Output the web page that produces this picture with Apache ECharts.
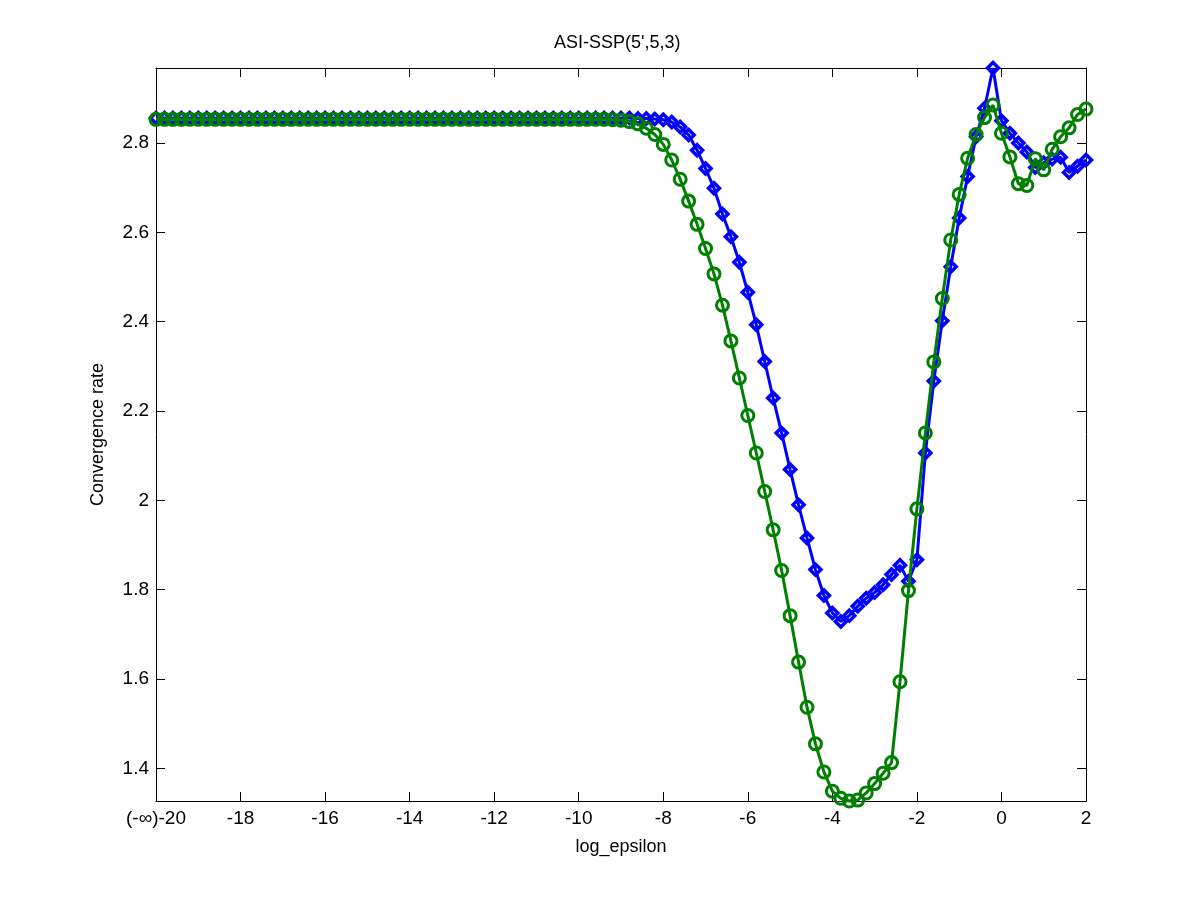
<!DOCTYPE html>
<html>
<head>
<meta charset="utf-8">
<script src="https://cdn.jsdelivr.net/npm/echarts@6/dist/echarts.min.js"></script>
<style>
html,body{margin:0;padding:0;background:#fff;}
#chart{width:1200px;height:900px;}
</style>
</head>
<body>
<div id="chart"></div>
<script>
// log_epsilon values
const xs = [
  -20,-19.8,-19.6,-19.4,-19.2,-19,-18.8,-18.6,-18.4,-18.2,
  -18,-17.8,-17.6,-17.4,-17.2,-17,-16.8,-16.6,-16.4,-16.2,
  -16,-15.8,-15.6,-15.4,-15.2,-15,-14.8,-14.6,-14.4,-14.2,
  -14,-13.8,-13.6,-13.4,-13.2,-13,-12.8,-12.6,-12.4,-12.2,
  -12,-11.8,-11.6,-11.4,-11.2,-11,-10.8,-10.6,-10.4,-10.2,
  -10,-9.8,-9.6,-9.4,-9.2,-9,-8.8,-8.6,-8.4,-8.2,
  -8,-7.8,-7.6,-7.4,-7.2,-7,-6.8,-6.6,-6.4,-6.2,
  -6,-5.8,-5.6,-5.4,-5.2,-5,-4.8,-4.6,-4.4,-4.2,
  -4,-3.8,-3.6,-3.4,-3.2,-3,-2.8,-2.6,-2.4,-2.2,
  -2,-1.8,-1.6,-1.4,-1.2,-1,-0.8,-0.6,-0.4,-0.2,
  0,0.2,0.4,0.6,0.8,1,1.2,1.4,1.6,1.8,
  2
];
// convergence rate, blue diamonds
const blueRate = [
  2.856,2.856,2.856,2.856,2.856,2.856,2.856,2.856,2.856,2.856,
  2.856,2.856,2.856,2.856,2.856,2.856,2.856,2.856,2.856,2.856,
  2.856,2.856,2.856,2.856,2.856,2.856,2.856,2.856,2.856,2.856,
  2.856,2.856,2.856,2.856,2.856,2.856,2.856,2.856,2.856,2.856,
  2.856,2.856,2.856,2.856,2.856,2.856,2.856,2.856,2.856,2.856,
  2.856,2.856,2.856,2.856,2.856,2.856,2.856,2.855,2.855,2.854,
  2.852,2.847,2.836,2.818,2.784,2.743,2.699,2.641,2.590,2.533,
  2.466,2.393,2.311,2.229,2.151,2.069,1.990,1.916,1.845,1.787,
  1.748,1.729,1.742,1.763,1.781,1.794,1.811,1.834,1.855,1.819,
  1.867,2.106,2.267,2.402,2.523,2.632,2.725,2.814,2.878,2.968,
  2.850,2.822,2.800,2.780,2.745,2.756,2.764,2.768,2.734,2.748,
  2.762
];
// convergence rate, green circles
const greenRate = [
  2.853,2.853,2.853,2.853,2.853,2.853,2.853,2.853,2.853,2.853,
  2.853,2.853,2.853,2.853,2.853,2.853,2.853,2.853,2.853,2.853,
  2.853,2.853,2.853,2.853,2.853,2.853,2.853,2.853,2.853,2.853,
  2.853,2.853,2.853,2.853,2.853,2.853,2.853,2.853,2.853,2.853,
  2.853,2.853,2.853,2.853,2.853,2.853,2.853,2.853,2.853,2.853,
  2.853,2.853,2.853,2.853,2.852,2.851,2.848,2.843,2.833,2.819,
  2.797,2.762,2.719,2.670,2.618,2.564,2.507,2.437,2.357,2.274,
  2.190,2.106,2.020,1.934,1.843,1.742,1.638,1.537,1.455,1.392,
  1.349,1.333,1.327,1.329,1.345,1.366,1.389,1.413,1.594,1.798,
  1.981,2.151,2.310,2.452,2.583,2.685,2.766,2.819,2.857,2.885,
  2.822,2.769,2.709,2.705,2.765,2.740,2.786,2.814,2.834,2.864,
  2.876
];
const titleText = "ASI-SSP(5',5,3)";
const xName = 'log_epsilon';
const yName = 'Convergence rate';
const xMin = -20, xMax = 2, xStep = 2;

const FONT = '"Liberation Sans", Arial, Helvetica, sans-serif';
const yMin = Math.min(...blueRate, ...greenRate);
const yMax = Math.max(...blueRate, ...greenRate);

const chart = echarts.init(document.getElementById('chart'), null, {renderer: 'canvas'});

const axisCommon = {
  axisLine: {show: true, onZero: false, lineStyle: {color: '#000', width: 1}},
  axisTick: {show: true, inside: true, length: 9, lineStyle: {color: '#000', width: 1}},
  splitLine: {show: false}
};

const option = {
  backgroundColor: '#fff',
  animation: false,
  textStyle: {fontFamily: FONT},
  title: {
    text: titleText,
    left: 554,
    top: 34,
    padding: 0,
    textStyle: {fontFamily: FONT, fontSize: 18, fontWeight: 'normal', color: '#000'}
  },
  grid: {left: 156, right: 114, top: 68, bottom: 99, containLabel: false},
  xAxis: [
    Object.assign({
      type: 'value', position: 'bottom', min: xMin, max: xMax, interval: xStep,
      name: xName, nameLocation: 'middle', nameGap: 37,
      nameTextStyle: {fontFamily: FONT, fontSize: 18, color: '#000'},
      axisLabel: {
        show: true, margin: 8, color: '#000', fontFamily: FONT, fontSize: 19,
        formatter: v => (v === -20 ? '(-\u221e)-20' : String(v))
      }
    }, axisCommon),
    Object.assign({
      type: 'value', position: 'top', min: xMin, max: xMax, interval: xStep,
      axisLabel: {show: false}
    }, axisCommon)
  ],
  yAxis: [
    Object.assign({
      type: 'value', position: 'left', min: yMin, max: yMax, splitNumber: 8,
      name: yName, nameLocation: 'middle', nameGap: 49, nameRotate: 90,
      nameTextStyle: {fontFamily: FONT, fontSize: 18, color: '#000'},
      axisLabel: {
        show: true, margin: 7, color: '#000', fontFamily: FONT, fontSize: 19,
        showMinLabel: false, showMaxLabel: false,
        formatter: v => String(Math.round(v * 10) / 10)
      }
    }, axisCommon),
    Object.assign({
      type: 'value', position: 'right', min: yMin, max: yMax, splitNumber: 8,
      axisLabel: {show: false}
    }, axisCommon)
  ],
  series: [
    {
      type: 'line',
      name: 'blue',
      xAxisIndex: 0, yAxisIndex: 0,
      data: xs.map((x, i) => [x, blueRate[i]]),
      clip: false,
      symbol: 'diamond',
      symbolSize: 11,
      showAllSymbol: true,
      lineStyle: {color: '#0000ff', width: 3},
      itemStyle: {color: 'rgba(0,0,0,0)', borderColor: '#0000ff', borderWidth: 3.5},
      z: 2
    },
    {
      type: 'line',
      name: 'green',
      xAxisIndex: 0, yAxisIndex: 0,
      data: xs.map((x, i) => [x, greenRate[i]]),
      clip: false,
      symbol: 'circle',
      symbolSize: 12,
      showAllSymbol: true,
      lineStyle: {color: '#008000', width: 3},
      itemStyle: {color: 'rgba(0,0,0,0)', borderColor: '#008000', borderWidth: 3},
      z: 3
    }
  ]
};
chart.setOption(option);
</script>
</body>
</html>
